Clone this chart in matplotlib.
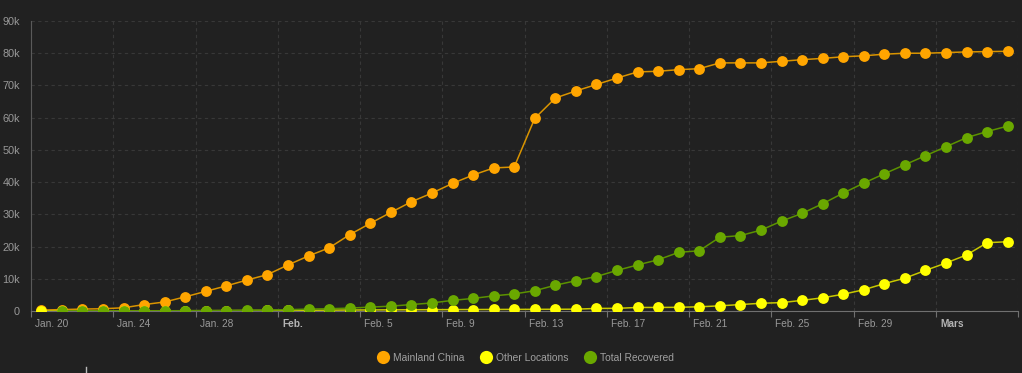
import numpy as np
import pandas as pd
import matplotlib
matplotlib.use('Agg')
import matplotlib.pyplot as plt
import matplotlib.transforms as mtransforms
from matplotlib.lines import Line2D

plt.rcParams['font.family'] = ['Liberation Sans', 'DejaVu Sans']

# Daily values, Jan 20 .. Mar 8
dates = pd.date_range('2020-01-20 12:00', periods=48, freq='D')

mainland_china = [290, 440, 600, 700, 1000, 2000, 2800, 4400, 6100, 7800,
                  9600, 11300, 14300, 17100, 19600, 23700, 27200, 30600, 33900, 36600,
                  39600, 42200, 44400, 44700, 59800, 66100, 68300, 70300, 72300, 74200,
                  74400, 74900, 75200, 77000, 77000, 77000, 77500, 78000, 78400, 78900,
                  79200, 79700, 80000, 80000, 80200, 80400, 80500, 80600]

other_locations = [10, 12, 20, 30, 40, 50, 60, 80, 100, 130,
                   150, 180, 210, 240, 270, 300, 330, 360, 380, 410,
                   440, 460, 480, 500, 520, 540, 560, 800, 820, 1100,
                   1100, 1150, 1300, 1600, 2000, 2400, 2600, 3300, 4100, 5200,
                   6600, 8500, 10200, 12600, 14900, 17400, 21200, 21500]

total_recovered = [np.nan, 30, 30, 40, 40, 50, 60, 100, 120, 140,
                   250, 300, 400, 600, 700, 900, 1200, 1500, 2000, 2500,
                   3300, 3900, 4700, 5300, 6300, 8000, 9400, 10700, 12600, 14300,
                   15900, 18200, 18700, 22900, 23400, 25100, 27900, 30300, 33300, 36600,
                   39700, 42600, 45400, 48200, 51000, 53800, 55700, 57400]

tick_dates = pd.date_range('2020-01-20', '2020-03-08', freq='4D')
tick_labels = ['Jan. 20', 'Jan. 24', 'Jan. 28', 'Feb.', 'Feb. 5', 'Feb. 9', 'Feb. 13',
               'Feb. 17', 'Feb. 21', 'Feb. 25', 'Feb. 29', 'Mars', '']
bold_labels = ['Feb.', 'Mars']

y_ticks = [0, 10000, 20000, 30000, 40000, 50000, 60000, 70000, 80000, 90000]
y_labels = ['0', '10k', '20k', '30k', '40k', '50k', '60k', '70k', '80k', '90k']

series = [
    ('Mainland China', mainland_china, '#ffa500', '#d99400'),
    ('Other Locations', other_locations, '#ffff00', '#c8c800'),
    ('Total Recovered', total_recovered, '#6aa800', '#5c9200'),
]

bg = '#212121'
fig = plt.figure(figsize=(10.22, 3.73), dpi=100, facecolor=bg)
ax = fig.add_axes([31 / 1022, 1 - 311 / 373, 987 / 1022, 290 / 373])
ax.set_facecolor(bg)

handles = []
for i, (name, vals, mcol, lcol) in enumerate(series):
    ax.plot(dates, vals, color=lcol, lw=1.1, zorder=3 + i)
    ax.plot(dates, vals, ls='none', marker='o', ms=7.8, color=mcol,
            markeredgewidth=0, zorder=3 + i)
    handles.append(Line2D([], [], ls='none', marker='o', ms=9.5, color=mcol,
                          markeredgewidth=0, label=name))

ax.set_xlim(pd.Timestamp('2020-01-20'), pd.Timestamp('2020-03-08'))
ax.set_ylim(0, 90000)

ax.set_xticks(tick_dates)
ax.set_xticklabels(tick_labels)
ax.set_yticks(y_ticks)
ax.set_yticklabels(y_labels)

ax.grid(True, color='#383838', linestyle=(0, (3, 3)), linewidth=0.8)
ax.set_axisbelow(True)

for side in ['top', 'right']:
    ax.spines[side].set_visible(False)
ax.spines['left'].set_color('#5a5a5a')
ax.spines['bottom'].set_color('#707070')

ax.tick_params(axis='x', colors='#707070', length=4, width=0.8, pad=2,
               labelsize=7.3, labelcolor='#999999')
ax.tick_params(axis='y', length=0, pad=8, labelsize=7.8, labelcolor='#999999')

offset = mtransforms.ScaledTranslation(3 / 72, 0, fig.dpi_scale_trans)
for lbl in ax.get_xticklabels():
    lbl.set_ha('left')
    lbl.set_transform(lbl.get_transform() + offset)
    if lbl.get_text() in bold_labels:
        lbl.set_fontweight('bold')
        lbl.set_color('#b4b4b4')

fig.legend(handles=handles, loc='center', bbox_to_anchor=(0.514, 0.04), ncol=3,
           frameon=False, fontsize=7.4, labelcolor='#a0a0a0', handletextpad=0.35,
           columnspacing=1.5, handlelength=1.2)

fig.add_artist(Line2D([86 / 1022, 86 / 1022], [0, 6 / 373], color='#bbbbbb', lw=1))

fig.savefig('out.png', dpi=100, facecolor=bg)
